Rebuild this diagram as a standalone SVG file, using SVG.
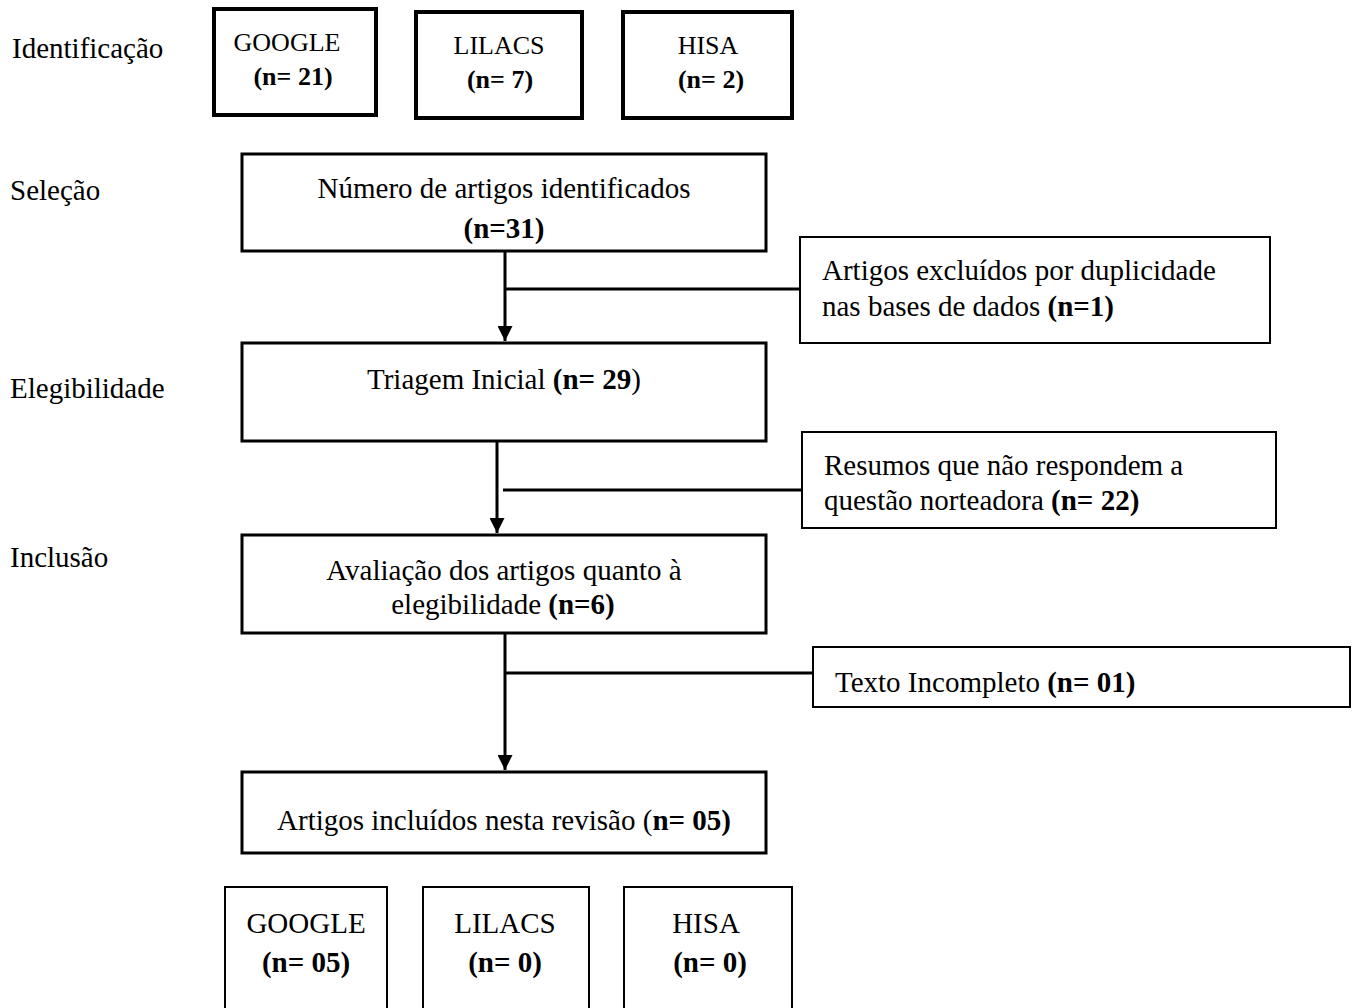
<svg xmlns="http://www.w3.org/2000/svg" width="1356" height="1008" viewBox="0 0 1356 1008">
<style>
text{font-family:"Liberation Serif","Times New Roman",serif;font-size:29px;fill:#000}
.s{font-size:26px}
.c{text-anchor:middle}
.b{font-weight:bold}
.thick{fill:#fff;stroke:#000;stroke-width:4}
.med{fill:#fff;stroke:#000;stroke-width:3}
.thin{fill:#fff;stroke:#000;stroke-width:2}
.ln{stroke:#000;stroke-width:3;fill:none}
</style>
<defs>
<marker id="ah" markerWidth="5" markerHeight="5" refX="5" refY="2.5" orient="auto" markerUnits="strokeWidth">
<path d="M0,0 L5,2.5 L0,5 Z" fill="#000"/>
</marker>
</defs>
<rect width="1356" height="1008" fill="#fff"/>
<g id="stage-labels">
<text x="12" y="58">Identificação</text>
<text x="10" y="200">Seleção</text>
<text x="10" y="398">Elegibilidade</text>
<text x="10" y="567">Inclusão</text>
</g>
<g id="connectors">
<line class="ln" x1="505" y1="251" x2="505" y2="341" marker-end="url(#ah)"/>
<line class="ln" x1="505" y1="289" x2="800" y2="289"/>
<line class="ln" x1="497" y1="441" x2="497" y2="533" marker-end="url(#ah)"/>
<line class="ln" x1="503" y1="490" x2="802" y2="490"/>
<line class="ln" x1="505" y1="633" x2="505" y2="770" marker-end="url(#ah)"/>
<line class="ln" x1="505" y1="673" x2="813" y2="673"/>
</g>
<g id="google-top"><rect class="thick" x="214" y="9" width="162" height="106"/>
<text class="c s" x="287" y="51">GOOGLE</text><text class="c s b" x="293" y="85">(n= 21)</text></g>
<g id="lilacs-top"><rect class="thick" x="416" y="12" width="166" height="106"/>
<text class="c s" x="499" y="54">LILACS</text><text class="c s b" x="500" y="88">(n= 7)</text></g>
<g id="hisa-top"><rect class="thick" x="623" y="12" width="169" height="106"/>
<text class="c s" x="708" y="54">HISA</text><text class="c s b" x="711" y="88">(n= 2)</text></g>
<g id="identificados"><rect class="med" x="242" y="154" width="524" height="97"/>
<text class="c" x="504" y="198">Número de artigos identificados</text>
<text class="c b" x="504" y="238">(n=31)</text></g>
<g id="duplicidade"><rect class="thin" x="800" y="237" width="470" height="106"/>
<text x="822" y="280">Artigos excluídos por duplicidade</text>
<text x="822" y="316">nas bases de dados <tspan class="b">(n=1)</tspan></text></g>
<g id="triagem"><rect class="med" x="242" y="343" width="524" height="98"/>
<text class="c" x="504" y="389">Triagem Inicial <tspan class="b">(n= 29</tspan>)</text></g>
<g id="resumos"><rect class="thin" x="802" y="432" width="474" height="96"/>
<text x="824" y="475">Resumos que não respondem a</text>
<text x="824" y="510">questão norteadora  <tspan class="b">(n= 22)</tspan></text></g>
<g id="avaliacao"><rect class="med" x="242" y="535" width="524" height="98"/>
<text class="c" x="504" y="580">Avaliação dos artigos quanto à</text>
<text class="c" x="503" y="614">elegibilidade <tspan class="b">(n=6)</tspan></text></g>
<g id="incompleto"><rect class="thin" x="813" y="647" width="537" height="60"/>
<text x="835" y="692">Texto Incompleto <tspan class="b">(n= 01)</tspan></text></g>
<g id="incluidos"><rect class="med" x="242" y="772" width="524" height="81"/>
<text class="c" x="504" y="830">Artigos incluídos nesta revisão (<tspan class="b">n= 05)</tspan></text></g>
<g id="google-bottom"><rect class="thin" x="225" y="887" width="162" height="130"/>
<text class="c" x="306" y="933">GOOGLE</text><text class="c b" x="306" y="972">(n= 05)</text></g>
<g id="lilacs-bottom"><rect class="thin" x="423" y="887" width="166" height="130"/>
<text class="c" x="505" y="933">LILACS</text><text class="c b" x="505" y="972">(n= 0)</text></g>
<g id="hisa-bottom"><rect class="thin" x="624" y="887" width="168" height="130"/>
<text class="c" x="706" y="933">HISA</text><text class="c b" x="710" y="972">(n= 0)</text></g>
</svg>
